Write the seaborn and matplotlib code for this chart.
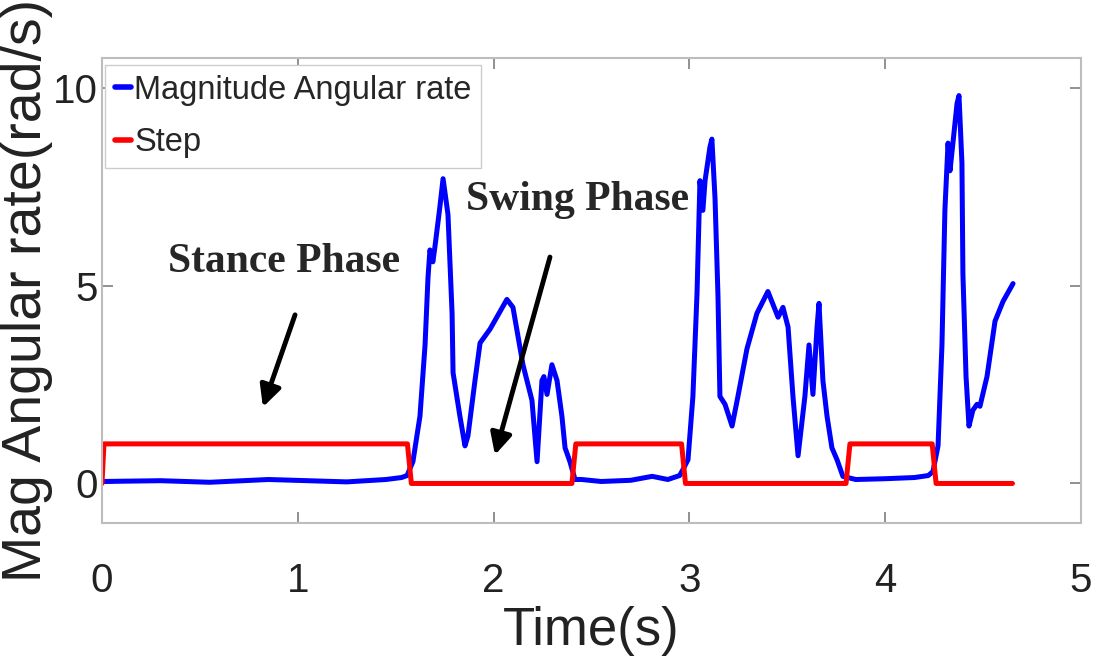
import numpy as np
import pandas as pd
import matplotlib
matplotlib.use("Agg")
import matplotlib.pyplot as plt
import seaborn as sns

# Data
time_s = [0.00, 0.30, 0.55, 0.85, 1.05, 1.25, 1.45, 1.53,
          1.558, 1.588, 1.624, 1.650, 1.665, 1.675, 1.690, 1.701, 1.726, 1.742,
          1.767, 1.788, 1.793, 1.828, 1.854, 1.869, 1.905, 1.931, 1.982, 2.068,
          2.099, 2.150, 2.196, 2.222, 2.247, 2.257, 2.273, 2.298, 2.324, 2.349,
          2.365, 2.390, 2.416,
          2.45, 2.55, 2.70, 2.81, 2.89, 2.95,
          2.967, 2.993, 3.018, 3.039, 3.054, 3.069, 3.080, 3.105, 3.115, 3.131,
          3.146, 3.156, 3.182, 3.218, 3.248, 3.294, 3.345, 3.401, 3.453, 3.478,
          3.504, 3.529, 3.555, 3.590, 3.611, 3.631, 3.652, 3.662, 3.682, 3.703,
          3.728, 3.754, 3.784,
          3.85, 4.00, 4.15, 4.22,
          4.244, 4.270, 4.290, 4.305, 4.321, 4.331, 4.346, 4.367, 4.377, 4.392,
          4.397, 4.413, 4.428, 4.448, 4.469, 4.484, 4.520, 4.561, 4.602, 4.653]
ang_rate = [0.05, 0.07, 0.03, 0.10, 0.07, 0.04, 0.10, 0.15,
            0.20, 0.55, 1.70, 3.50, 5.20, 5.90, 5.60, 6.00, 7.00, 7.70,
            6.80, 4.30, 2.80, 1.70, 0.95, 1.20, 2.60, 3.55, 3.90, 4.65,
            4.45, 3.00, 2.10, 0.55, 2.60, 2.70, 2.25, 3.00, 2.60, 1.70,
            0.90, 0.55, 0.10,
            0.10, 0.05, 0.08, 0.18, 0.10, 0.20,
            0.35, 0.60, 2.20, 4.80, 7.65, 6.90, 7.65, 8.50, 8.70, 7.20,
            4.75, 2.20, 2.00, 1.45, 2.20, 3.40, 4.30, 4.85, 4.20, 4.45,
            3.95, 2.20, 0.70, 2.20, 3.50, 2.25, 3.95, 4.55, 2.60, 1.70,
            0.90, 0.60, 0.18,
            0.10, 0.12, 0.15, 0.20,
            0.30, 0.95, 3.50, 6.90, 8.60, 7.90, 8.60, 9.60, 9.80, 8.10,
            5.30, 2.70, 1.45, 1.85, 2.00, 1.95, 2.70, 4.10, 4.60, 5.05]

step_t = [0.00, 0.01, 1.56, 1.58, 2.40, 2.42, 2.96, 2.98, 3.80, 3.82, 4.24, 4.26, 4.65]
step_v = [0, 1, 1, 0, 0, 1, 1, 0, 0, 1, 1, 0, 0]

x_ticks = [0, 1, 2, 3, 4, 5]
y_ticks = [0, 5, 10]

rate_df = pd.DataFrame({"Time": time_s, "Rate": ang_rate})
step_df = pd.DataFrame({"Time": step_t, "Step": step_v})

sns.set_style("ticks")
plt.rcParams["font.family"] = ["Liberation Sans", "DejaVu Sans"]

fig = plt.figure(figsize=(10.99, 6.68), dpi=100)
ax = fig.add_axes([0.0928, 0.217, 0.8908, 0.6962])

sns.lineplot(data=rate_df, x="Time", y="Rate", color="#0000ff", lw=3.6,
             estimator=None, sort=False, ax=ax, label="Magnitude Angular rate")
sns.lineplot(data=step_df, x="Time", y="Step", color="#ff0000", lw=3.6,
             estimator=None, sort=False, ax=ax, label="Step")

ax.set_xlim(0, 5)
ax.set_ylim(-1, 10.75)
ax.set_xticks(x_ticks)
ax.set_yticks(y_ticks)
ax.tick_params(direction="in", length=8, width=1.3, color="#888888",
               top=True, right=True, labelsize=29, labelcolor="#222222")
ax.tick_params(axis="x", pad=28)
ax.tick_params(axis="y", pad=3)
for s in ax.spines.values():
    s.set_color("#bdbdbd")
    s.set_linewidth(1.5)

ax.set_xlabel("Time(s)", fontsize=38, color="#222222")
ax.xaxis.set_label_coords(0.5, -0.178)
ax.set_ylabel("Mag Angular rate(rad/s)", fontsize=40, color="#222222", labelpad=0)

leg = ax.legend(loc="upper left", bbox_to_anchor=(0.003, 0.985), fontsize=23.5,
                handlelength=0.5, handletextpad=0.1, borderpad=0.3,
                labelspacing=0.65, borderaxespad=0, fancybox=False,
                framealpha=1, edgecolor="#cccccc")
for h in leg.get_lines():
    h.set_linewidth(4)

# Phase annotations
serif = ["Liberation Serif", "DejaVu Serif"]
ax.text(0.93, 5.34, "Stance Phase", fontsize=30, fontweight="bold",
        family=serif, ha="center", va="baseline")
ax.text(2.43, 6.91, "Swing Phase", fontsize=30, fontweight="bold",
        family=serif, ha="center", va="baseline")
arrow = dict(arrowstyle="-|>", lw=3.5, color="black", mutation_scale=32,
             shrinkA=0, shrinkB=0)
ax.annotate("", xy=(0.822, 1.93), xytext=(0.986, 4.26), arrowprops=arrow)
ax.annotate("", xy=(2.007, 0.72), xytext=(2.288, 5.72), arrowprops=arrow)

fig.savefig("out.png", dpi=100)
